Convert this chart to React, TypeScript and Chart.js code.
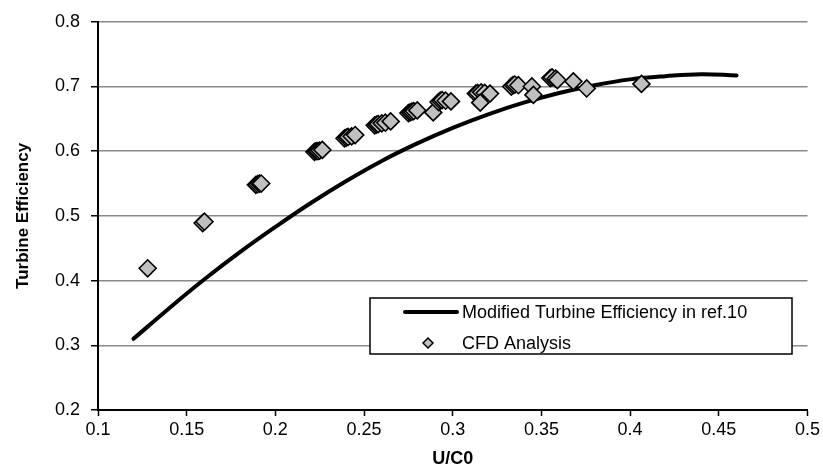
import React, { useEffect, useRef } from "react";
import { Chart, registerables } from "chart.js";

Chart.register(...registerables);

// ---- data ----
const curveLabel = "Modified Turbine Efficiency in ref.10";
const curveX = [0.12, 0.14, 0.16, 0.18, 0.2, 0.22, 0.24, 0.26, 0.28, 0.3, 0.32, 0.34, 0.36, 0.38, 0.4, 0.42, 0.44, 0.46];
const curveY = [0.31, 0.357, 0.402, 0.444, 0.483, 0.52, 0.554, 0.585, 0.612, 0.636, 0.657, 0.675, 0.69, 0.702, 0.711, 0.716, 0.719, 0.717];

const cfdLabel = "CFD Analysis";
const cfdX = [
  0.128, 0.159, 0.16, 0.189, 0.19, 0.191, 0.192,
  0.222, 0.223, 0.224, 0.225, 0.2265,
  0.239, 0.24, 0.241, 0.243, 0.245,
  0.256, 0.257, 0.258, 0.26, 0.262, 0.265,
  0.275, 0.276, 0.277, 0.278, 0.28, 0.289,
  0.292, 0.293, 0.294, 0.296, 0.299,
  0.313, 0.314, 0.316, 0.318, 0.321, 0.3155,
  0.333, 0.334, 0.335, 0.337, 0.3446, 0.3455,
  0.355, 0.356, 0.358, 0.359, 0.368, 0.3755, 0.4064,
];
const cfdY = [
  0.419, 0.489, 0.491, 0.548, 0.549, 0.55, 0.55,
  0.599, 0.6, 0.6, 0.601, 0.602,
  0.62, 0.621, 0.622, 0.623, 0.625,
  0.64, 0.641, 0.642, 0.643, 0.644, 0.646,
  0.659, 0.66, 0.661, 0.662, 0.663, 0.66,
  0.676, 0.678, 0.679, 0.678, 0.677,
  0.689, 0.69, 0.691, 0.69, 0.689, 0.675,
  0.7, 0.702, 0.703, 0.702, 0.7, 0.687,
  0.713, 0.714, 0.712, 0.71, 0.708, 0.697, 0.704,
];

const xTicks = [0.1, 0.15, 0.2, 0.25, 0.3, 0.35, 0.4, 0.45, 0.5];
const xTickLabels = ["0.1", "0.15", "0.2", "0.25", "0.3", "0.35", "0.4", "0.45", "0.5"];
const yTicks = [0.2, 0.3, 0.4, 0.5, 0.6, 0.7, 0.8];
const yTickLabels = ["0.2", "0.3", "0.4", "0.5", "0.6", "0.7", "0.8"];

const xTitle = "U/C0";
const yTitle = "Turbine Efficiency";

const FONT = "'Liberation Sans', Arial, sans-serif";
const MARKER_FILL = "#c0c0c0";

const legendPlugin = {
  id: "boxLegend",
  afterDraw(chart: any) {
    const ctx = chart.ctx;
    const ca = chart.chartArea;
    const left = ca.left + 272;
    const top = ca.bottom - 112;
    const w = 422;
    const h = 56;
    ctx.save();
    ctx.fillStyle = "#fff";
    ctx.fillRect(left, top, w, h);
    ctx.strokeStyle = "#000";
    ctx.lineWidth = 1.5;
    ctx.strokeRect(left, top, w, h);
    // row 1: line
    ctx.beginPath();
    ctx.lineWidth = 4;
    ctx.lineCap = "round";
    ctx.moveTo(left + 35, top + 14);
    ctx.lineTo(left + 87, top + 14);
    ctx.stroke();
    ctx.fillStyle = "#000";
    ctx.font = `18px ${FONT}`;
    ctx.textBaseline = "middle";
    ctx.textAlign = "left";
    const ds = chart.data.datasets;
    ctx.fillText(ds[1].label, left + 92, top + 15);
    // row 2: diamond
    const cx = left + 58;
    const cy = top + 45;
    const r = 5;
    ctx.beginPath();
    ctx.moveTo(cx - r, cy);
    ctx.lineTo(cx, cy - r);
    ctx.lineTo(cx + r, cy);
    ctx.lineTo(cx, cy + r);
    ctx.closePath();
    ctx.fillStyle = MARKER_FILL;
    ctx.fill();
    ctx.lineWidth = 1.5;
    ctx.strokeStyle = "#000";
    ctx.stroke();
    ctx.fillStyle = "#000";
    ctx.fillText(ds[0].label, left + 92, top + 46);
    ctx.restore();
  },
};

export default function App() {
  const ref = useRef<HTMLCanvasElement | null>(null);
  useEffect(() => {
    if (!ref.current) return;
    Chart.defaults.font.family = FONT;
    Chart.defaults.color = "#000";
    const chart = new Chart(ref.current, {
      type: "scatter",
      data: {
        datasets: [
          {
            label: cfdLabel,
            data: cfdX.map((x, i) => ({ x, y: cfdY[i] })),
            pointStyle: "rectRot",
            pointRadius: 8.5,
            pointBackgroundColor: MARKER_FILL,
            pointBorderColor: "#000",
            pointBorderWidth: 1.6,
            showLine: false,
            order: 0,
          },
          {
            label: curveLabel,
            data: curveX.map((x, i) => ({ x, y: curveY[i] })),
            showLine: true,
            borderColor: "#000",
            borderWidth: 4,
            borderCapStyle: "round",
            borderJoinStyle: "round",
            tension: 0.4,
            pointRadius: 0,
            order: 1,
          } as any,
        ],
      },
      options: {
        animation: false,
        responsive: false,
        devicePixelRatio: 1,
        layout: { padding: { top: 20, right: 14, left: 0, bottom: 0 } },
        plugins: { legend: { display: false }, tooltip: { enabled: false } },
        scales: {
          x: {
            type: "linear",
            min: 0.1,
            max: 0.5,
            afterFit: (s: any) => {
              s.height = 58;
            },
            afterBuildTicks: (s: any) => {
              s.ticks = xTicks.map((v) => ({ value: v }));
            },
            ticks: {
              font: { size: 18 },
              padding: 3,
              maxRotation: 0,
              callback: (_v: any, i: number) => xTickLabels[i],
            },
            grid: {
              drawOnChartArea: false,
              drawTicks: true,
              tickLength: 6,
              tickColor: "#000",
              tickWidth: 1.5,
            },
            border: { color: "#000", width: 2 },
            title: {
              display: true,
              text: xTitle,
              font: { size: 18, weight: "bold", lineHeight: 1 },
              padding: { top: 0, bottom: 0 },
            },
          },
          y: {
            type: "linear",
            min: 0.2,
            max: 0.8,
            afterFit: (s: any) => {
              s.width = 98;
            },
            afterBuildTicks: (s: any) => {
              s.ticks = yTicks.map((v) => ({ value: v }));
            },
            ticks: {
              font: { size: 18 },
              padding: 11,
              callback: (_v: any, i: number) => yTickLabels[i],
            },
            grid: {
              color: "#8a8a8a",
              lineWidth: 1.5,
              tickLength: 7,
              tickColor: "#000",
              tickWidth: 1.5,
            },
            border: { color: "#000", width: 2 },
            title: {
              display: true,
              text: yTitle,
              font: { size: 17, weight: "bold", lineHeight: 1.2 },
              padding: { top: 13, bottom: 4 },
            },
          },
        },
      } as any,
      plugins: [legendPlugin],
    });
    return () => chart.destroy();
  }, []);
  return (
    <div style={{ position: "fixed", left: 0, top: 0, width: 823, height: 468, background: "#fff" }}>
      <canvas ref={ref} width={823} height={468} />
    </div>
  );
}
